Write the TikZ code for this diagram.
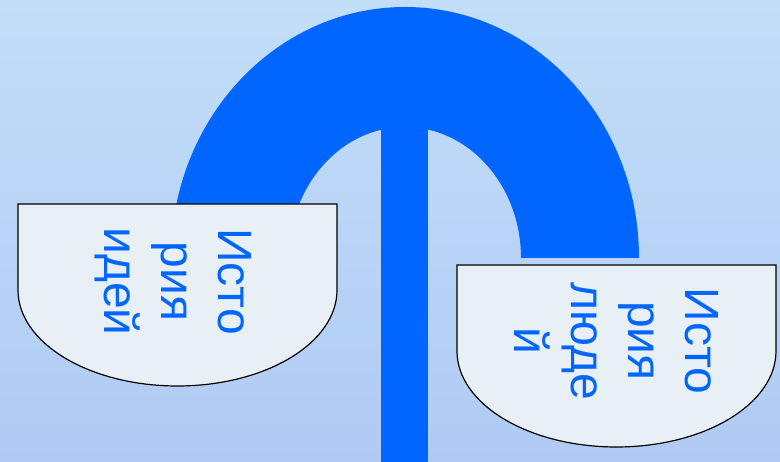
\documentclass[tikz,border=0pt]{standalone}
\usepackage{fontspec}
\setmainfont{Liberation Sans}
\definecolor{archblue}{RGB}{0,102,255}
\definecolor{bgtop}{RGB}{194,222,248}
\definecolor{bgbot}{RGB}{176,202,244}
\definecolor{bowlfill}{RGB}{232,240,245}
\tikzset{
  bowl/.style={fill=bowlfill, draw=black, line width=1.2pt},
  bowltext/.style={rotate=-90, align=center, text=archblue, inner sep=0pt,
    font=\fontsize{48}{57}\selectfont},
}
\begin{document}
\begin{tikzpicture}[x=1pt,y=1pt]
\useasboundingbox (0,0) rectangle (780,462);
\shade[top color=bgtop, bottom color=bgbot] (0,0) rectangle (780,462);
% arch
\fill[archblue] (639,204) arc[start angle=0,end angle=180,x radius=234,y radius=251]
  -- (289,204) arc[start angle=180,end angle=0,x radius=116,y radius=131] -- cycle;
% stem
\fill[archblue] (381,0) rectangle (428,340);
% left bowl
\path[bowl] (18,258) -- (18,172) arc[start angle=180,end angle=360,x radius=159.5,y radius=96] -- (337,258) -- cycle;
\node[bowltext] (ideas) at (173,180.5) {Исто\\рия\\идей};
% right bowl
\path[bowl] (457,197) -- (457,111) arc[start angle=180,end angle=360,x radius=159.5,y radius=96] -- (776,197) -- cycle;
\node[bowltext] (people) at (617,121) {Исто\\рия\\люде\\й};
\end{tikzpicture}
\end{document}
